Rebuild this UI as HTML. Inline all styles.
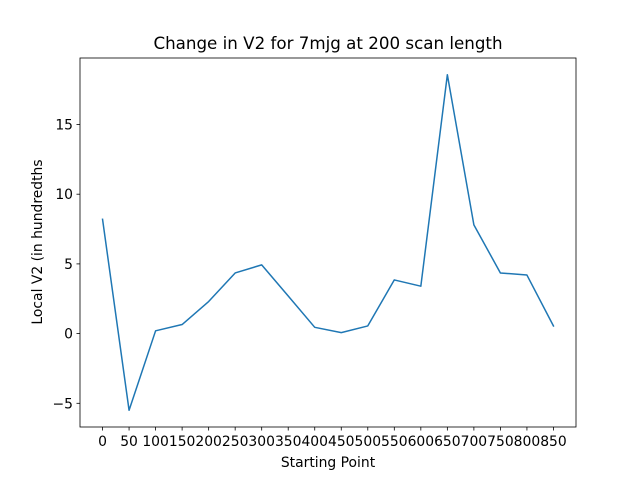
<!DOCTYPE html>
<html><head><meta charset="utf-8"><style>body{margin:0;background:#fff}svg{display:block;font-family:"DejaVu Sans","Liberation Sans",sans-serif}</style></head>
<body>
<svg id="c" width="640" height="480"></svg>
<script>
const xValues=[0,50,100,150,200,250,300,350,400,450,500,550,600,650,700,750,800,850];
const yValues=[8.2,-5.5,0.2,0.65,2.3,4.35,4.93,2.7,0.45,0.07,0.55,3.85,3.4,18.57,7.8,4.35,4.2,0.55];
const xTicks=[0,50,100,150,200,250,300,350,400,450,500,550,600,650,700,750,800,850];
const yTicks=[-5,0,5,10,15];
const L=80,R=576,T=58,B=427;
const xmin=-42.5,xmax=892.5,ymin=-6.7,ymax=19.77;
const sx=v=>L+(v-xmin)/(xmax-xmin)*(R-L);
const sy=v=>B-(v-ymin)/(ymax-ymin)*(B-T);
const svg=document.getElementById('c');const NS='http://www.w3.org/2000/svg';
function mk(t,a,p){const e=document.createElementNS(NS,t);for(const k in a)e.setAttribute(k,a[k]);(p||svg).appendChild(e);return e;}
const title=mk('text',{x:328,y:49,'text-anchor':'middle','font-size':'16.7'});title.textContent='Change in V2 for 7mjg at 200 scan length';


const frame=mk('rect',{x:L,y:T,width:R-L,height:B-T,fill:'none',stroke:'#000','stroke-width':0.8});


xTicks.forEach(v=>{const x=sx(v);mk('line',{x1:x,x2:x,y1:B,y2:B+3.5,stroke:'#000','stroke-width':0.8});
const t=mk('text',{x:x,y:B+19,'text-anchor':'middle','font-size':'13.9'});t.textContent=v;

});
yTicks.forEach(v=>{const y=sy(v);mk('line',{x1:L-3.5,x2:L,y1:y,y2:y,stroke:'#000','stroke-width':0.8});
const t=mk('text',{x:L-7,y:y+5,'text-anchor':'end','font-size':'13.9'});t.textContent=v<0?'\u2212'+(-v):v;

});
const xl=mk('text',{x:328,y:467,'text-anchor':'middle','font-size':'13.9'});xl.textContent='Starting Point';


const yl=mk('text',{x:42,y:242,'text-anchor':'middle','font-size':'13.9',transform:'rotate(-90 42 242)'});yl.textContent='Local V2 (in hundredths';


const pts=xValues.map((x,i)=>sx(x)+','+sy(yValues[i])).join(' ');
const line=mk('polyline',{points:pts,fill:'none',stroke:'#1f77b4','stroke-width':1.5,'stroke-linejoin':'round','stroke-linecap':'square'});


</script>
</body></html>
